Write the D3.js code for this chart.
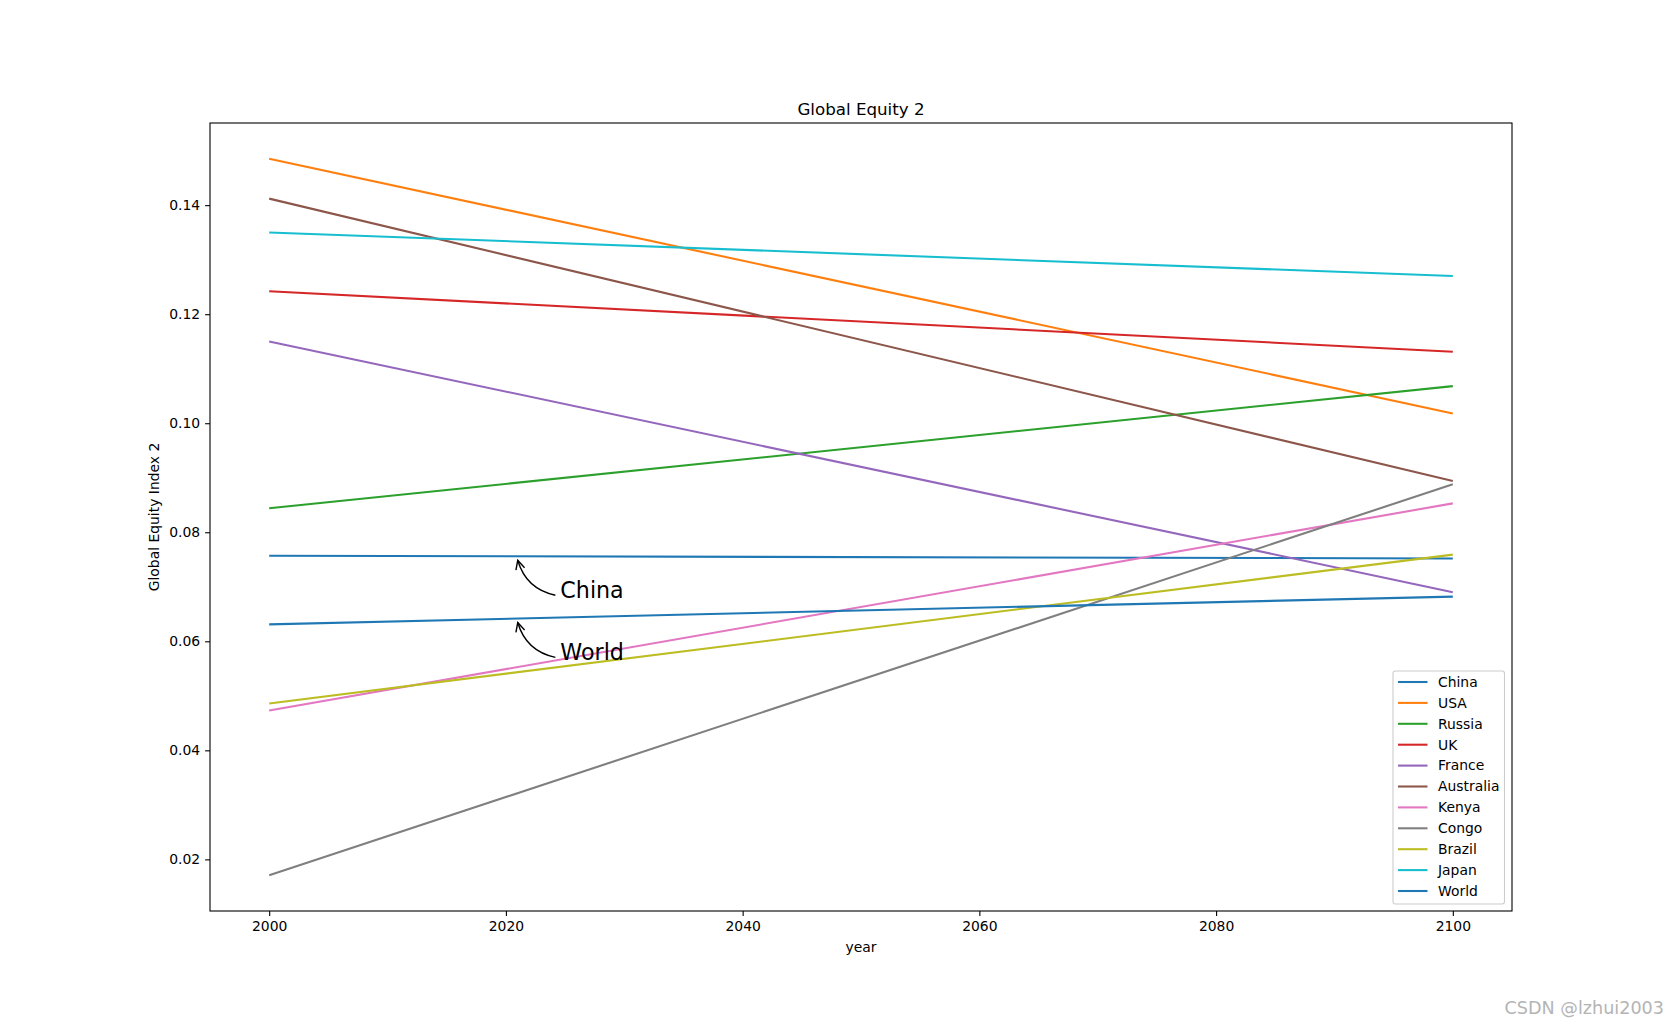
<!DOCTYPE html>
<html>
<head>
<meta charset="utf-8">
<script src="https://cdn.jsdelivr.net/npm/d3@7"></script>
<style>
  body { margin: 0; background: #fff; }
  text { font-family: "DejaVu Sans", sans-serif; }
</style>
</head>
<body>
<div id="line-chart"></div>
<script>
// Data
const years = [2000, 2100];
const seriesNames = ["China", "USA", "Russia", "UK", "France", "Australia", "Kenya", "Congo", "Brazil", "Japan", "World"];
const china = [0.0757, 0.0752];
const usa = [0.1485, 0.1018];
const russia = [0.0844, 0.1068];
const uk = [0.1242, 0.1131];
const france = [0.1150, 0.0690];
const australia = [0.1412, 0.0894];
const kenya = [0.0473, 0.0853];
const congo = [0.0171, 0.0888];
const brazil = [0.0486, 0.0759];
const japan = [0.1350, 0.1270];
const world = [0.0631, 0.0682];
const seriesValues = [china, usa, russia, uk, france, australia, kenya, congo, brazil, japan, world];
const colors = ["#1f77b4", "#ff7f0e", "#2ca02c", "#d62728", "#9467bd", "#8c564b", "#e377c2", "#7f7f7f", "#bcbd22", "#17becf", "#1f77b4"];

const xTicks = [2000, 2020, 2040, 2060, 2080, 2100];
const yTicks = [0.02, 0.04, 0.06, 0.08, 0.10, 0.12, 0.14];

// annotations: which series, where the arrow points, where the text sits
const annoNames = ["China", "World"];
const annoAt = [2021, 2021];
const annoTextX = [2024.6, 2024.6];
const annoTextY = [0.0679, 0.0565];

const W = 1680, H = 1024;
const margin = { top: 123, right: 168, bottom: 113, left: 210 };
const width = W - margin.left - margin.right;
const height = H - margin.top - margin.bottom;

const root = d3.select("#line-chart")
    .append("svg")
    .attr("width", W)
    .attr("height", H);

const svg = root.append("g")
    .attr("transform", `translate(${margin.left},${margin.top})`);

// matplotlib style 5% padding on both axes
const xMin = d3.min(years), xMax = d3.max(years);
const xPad = (xMax - xMin) * 0.05;
const allVals = seriesValues.flat();
const yMin = d3.min(allVals), yMax = d3.max(allVals);
const yPad = (yMax - yMin) * 0.05;

const xScale = d3.scaleLinear().domain([xMin - xPad, xMax + xPad]).range([0, width]);
const yScale = d3.scaleLinear().domain([yMin - yPad, yMax + yPad]).range([height, 0]);

const line = d3.line()
    .x((d) => xScale(d.year))
    .y((d) => yScale(d.value));

// lines
seriesNames.forEach((name, i) => {
    const pts = years.map((y, j) => ({ year: y, value: seriesValues[i][j] }));
    svg.append("path")
        .datum(pts)
        .attr("fill", "none")
        .attr("stroke", colors[i])
        .attr("stroke-width", 2.08)
        .attr("d", line);
});

// axes
const xAxis = svg.append("g")
    .attr("transform", `translate(0, ${height})`)
    .call(d3.axisBottom(xScale).tickValues(xTicks).tickFormat(d3.format("d")).tickSizeOuter(0).tickSize(4.9).tickPadding(4.9));
const yAxis = svg.append("g")
    .call(d3.axisLeft(yScale).tickValues(yTicks).tickFormat(d3.format(".2f")).tickSizeOuter(0).tickSize(4.9).tickPadding(4.9));
[xAxis, yAxis].forEach((a) => {
    a.select(".domain").remove();
    a.selectAll("line").attr("stroke", "#000").attr("stroke-width", 1.1);
    a.selectAll("text").attr("font-size", 13.9).attr("fill", "#000").attr("font-family", "DejaVu Sans");
});

// frame
svg.append("rect")
    .attr("width", width)
    .attr("height", height)
    .attr("fill", "none")
    .attr("stroke", "#000")
    .attr("stroke-width", 1.1);

// title and labels
svg.append("text")
    .attr("x", width / 2)
    .attr("y", -8)
    .attr("text-anchor", "middle")
    .attr("font-size", 16.7)
    .text("Global Equity 2");

svg.append("text")
    .attr("x", width / 2)
    .attr("y", height + 41)
    .attr("text-anchor", "middle")
    .attr("font-size", 13.9)
    .text("year");

svg.append("text")
    .attr("transform", `translate(-51, ${height / 2}) rotate(-90)`)
    .attr("text-anchor", "middle")
    .attr("font-size", 13.9)
    .text("Global Equity Index 2");

// annotations with curved arrows
annoNames.forEach((name, k) => {
    const idx = seriesNames.indexOf(name);
    const vals = seriesValues[idx];
    const v = d3.scaleLinear().domain(years).range(vals)(annoAt[k]);
    const tip = [xScale(annoAt[k]), yScale(v) + 4];
    const tx = xScale(annoTextX[k]), ty = yScale(annoTextY[k]);
    const tail = [tx - 5, ty - 3];
    const dx = tip[0] - tail[0], dy = tip[1] - tail[1];
    const rad = 0.3;
    const ctrl = [(tip[0] + tail[0]) / 2 + rad * dy, (tip[1] + tail[1]) / 2 - rad * dx];
    const p = d3.path();
    p.moveTo(tail[0], tail[1]);
    p.quadraticCurveTo(ctrl[0], ctrl[1], tip[0], tip[1]);
    svg.append("path")
        .attr("d", p.toString())
        .attr("fill", "none")
        .attr("stroke", "#000")
        .attr("stroke-width", 1.4);
    // open arrow head
    const ang = Math.atan2(tip[1] - ctrl[1], tip[0] - ctrl[0]);
    const hl = 9, hw = 4.5;
    const bx = tip[0] - hl * Math.cos(ang), by = tip[1] - hl * Math.sin(ang);
    const nx = -Math.sin(ang), ny = Math.cos(ang);
    svg.append("path")
        .attr("d", `M${bx + hw * nx},${by + hw * ny}L${tip[0]},${tip[1]}L${bx - hw * nx},${by - hw * ny}`)
        .attr("fill", "none")
        .attr("stroke", "#000")
        .attr("stroke-width", 1.4);
    svg.append("text")
        .attr("x", tx)
        .attr("y", ty)
        .attr("font-size", 22.2)
        .text(name);
});

// legend
const legX = width - 119, legY = height - 240;
const legend = svg.append("g").attr("transform", `translate(${legX},${legY})`);
legend.append("rect")
    .attr("width", 111.5)
    .attr("height", 233)
    .attr("rx", 2.5)
    .attr("fill", "#fff")
    .attr("fill-opacity", 0.8)
    .attr("stroke", "#cccccc")
    .attr("stroke-width", 1.1);
seriesNames.forEach((name, i) => {
    const ly = 11 + i * 20.9;
    legend.append("line")
        .attr("x1", 5).attr("x2", 34.5)
        .attr("y1", ly).attr("y2", ly)
        .attr("stroke", colors[i])
        .attr("stroke-width", 2.08);
    legend.append("text")
        .attr("x", 45)
        .attr("y", ly + 4.8)
        .attr("font-size", 13.9)
        .text(name);
});

// watermark
root.append("text")
    .attr("x", 1664)
    .attr("y", 1014)
    .attr("text-anchor", "end")
    .attr("font-family", "Liberation Sans, Arial, sans-serif")
    .attr("font-size", 17.6)
    .attr("fill", "#b4b4b4")
    .text("CSDN @lzhui2003");
</script>
</body>
</html>
